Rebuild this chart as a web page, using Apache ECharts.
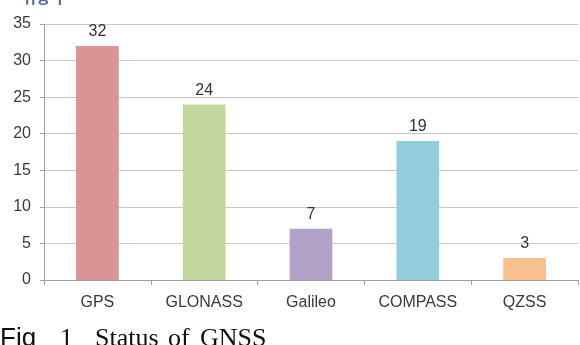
<!DOCTYPE html>
<html>
<head>
<meta charset="utf-8">
<script src="https://cdn.jsdelivr.net/npm/echarts@6/dist/echarts.min.js"></script>
<style>
html,body{margin:0;padding:0;background:#fff;}
#chart-panel{width:580px;height:345px;}
</style>
</head>
<body>
<div id="chart-panel"></div>
<script>
var categories = ['GPS', 'GLONASS', 'Galileo', 'COMPASS', 'QZSS'];
var values = [32, 24, 7, 19, 3];
var barColors = ['#d99594', '#c3d69b', '#b2a1c7', '#92cddc', '#fac090'];
var yTicks = [0, 5, 10, 15, 20, 25, 30, 35];

var myChart = echarts.init(document.getElementById('chart-panel'));

var data = [];
for (var i = 0; i < values.length; i++) {
	data.push({
		value: values[i],
		itemStyle: { color: barColors[i] }
	});
}

var sans = 'Liberation Sans, Arial, sans-serif';
var capFont = '26px "Liberation Serif", "Times New Roman", serif';

var option = {
	backgroundColor: '#fff',
	animation: false,
	grid: {
		left: 44,
		right: 2,
		top: 24,
		bottom: 65
	},
	xAxis: {
		type: 'category',
		data: categories,
		axisLine: { lineStyle: { color: '#a0a0a0' } },
		axisTick: { show: true, length: 5, lineStyle: { color: '#a0a0a0' } },
		axisLabel: {
			color: '#3a3a3a',
			fontSize: 16,
			fontFamily: sans,
			margin: 15
		}
	},
	yAxis: {
		type: 'value',
		min: yTicks[0],
		max: yTicks[yTicks.length - 1],
		interval: 5,
		axisLine: { show: true, lineStyle: { color: '#a0a0a0' } },
		axisTick: { show: true, length: 4, lineStyle: { color: '#a0a0a0' } },
		splitLine: { lineStyle: { color: '#c8c8c8' } },
		axisLabel: {
			color: '#3a3a3a',
			fontSize: 16,
			fontFamily: sans,
			margin: 13
		}
	},
	series: [{
		type: 'bar',
		data: data,
		barWidth: '40%',
		label: {
			show: true,
			position: 'top',
			distance: 6,
			color: '#333',
			fontSize: 16,
			fontFamily: sans
		}
	}],
	graphic: [
		{
			type: 'text',
			left: 22,
			top: -10,
			style: {
				text: '위성 수',
				fill: '#4a66a8',
				font: 'bold 15px "Noto Sans CJK KR"'
			}
		},
		{
			type: 'text',
			left: 0,
			top: 326,
			style: {
				text: 'Fig',
				fill: '#111',
				font: '26px "Liberation Sans", Arial, sans-serif'
			}
		},
		{ type: 'text', left: 60, top: 326, style: { text: '1', fill: '#111', font: capFont } },
		{ type: 'text', left: 95, top: 326, style: { text: 'Status', fill: '#111', font: capFont } },
		{ type: 'text', left: 168, top: 326, style: { text: 'of', fill: '#111', font: capFont } },
		{ type: 'text', left: 200, top: 326, style: { text: 'GNSS', fill: '#111', font: capFont } }
	]
};
myChart.setOption(option);
</script>
</body>
</html>
